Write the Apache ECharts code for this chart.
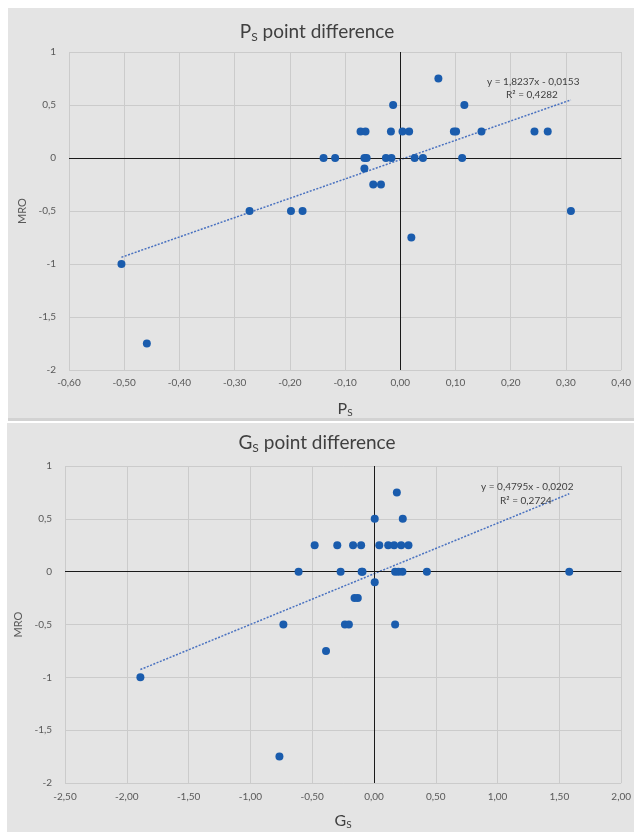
<!DOCTYPE html>
<html>
<head>
<meta charset="utf-8">
<script src="https://cdn.jsdelivr.net/npm/echarts@6/dist/echarts.min.js"></script>
<style>
html,body{margin:0;padding:0;background:#fff;}
#c{width:634px;height:832px;}
</style>
</head>
<body>
<div id="c"></div>
<script>
// ---- Data: top chart (P_S vs MRO) ----
const psX = [0.069, -0.013, 0.116,
  -0.072, -0.063, -0.017, 0.004, 0.016, 0.097, 0.101, 0.147, 0.243, 0.267,
  -0.139, -0.118, -0.065, -0.061, -0.026, -0.016, 0.026, 0.041, 0.112,
  -0.065, -0.049, -0.035,
  -0.273, -0.198, -0.177, 0.309,
  0.020, -0.505, -0.459];
const psY = [0.75, 0.5, 0.5,
  0.25, 0.25, 0.25, 0.25, 0.25, 0.25, 0.25, 0.25, 0.25, 0.25,
  0, 0, 0, 0, 0, 0, 0, 0, 0,
  -0.1, -0.25, -0.25,
  -0.5, -0.5, -0.5, -0.5,
  -0.75, -1, -1.75];
const psTrend = { slope: 1.8237, intercept: -0.0153, eq: 'y = 1,8237x - 0,0153', r2: 'R² = 0,4282' };
const psTickLabels = ['-0,60','-0,50','-0,40','-0,30','-0,20','-0,10','0,00','0,10','0,20','0,30','0,40'];

// ---- Data: bottom chart (G_S vs MRO) ----
const gsX = [0.185, 0.006, 0.233,
  -0.48, -0.297, -0.169, -0.104, 0.043, 0.115, 0.163, 0.22, 0.279,
  -0.61, -0.27, -0.10, -0.093, 0.171, 0.198, 0.23, 0.428, 1.58,
  0.006, -0.157, -0.131,
  -0.733, -0.235, -0.203, 0.171,
  -0.388, -1.89, -0.765];
const gsY = [0.75, 0.5, 0.5,
  0.25, 0.25, 0.25, 0.25, 0.25, 0.25, 0.25, 0.25, 0.25,
  0, 0, 0, 0, 0, 0, 0, 0, 0,
  -0.1, -0.25, -0.25,
  -0.5, -0.5, -0.5, -0.5,
  -0.75, -1, -1.75];
const gsTrend = { slope: 0.4795, intercept: -0.0202, eq: 'y = 0,4795x - 0,0202', r2: 'R² = 0,2724' };
const gsTickLabels = ['-2,50','-2,00','-1,50','-1,00','-0,50','0,00','0,50','1,00','1,50','2,00'];

const mroTickLabels = ['-2','-1,5','-1','-0,5','0','0,5','1'];

// ---- Build ----
const FONT = 'Lato, "Open Sans", sans-serif';
const BG = '#e4e4e4';
const DOT = '#1a5cad';
const TXT = '#595959';

function pts(xs, ys){ return xs.map((x,i)=>[x, ys[i]]); }
function trendLine(xs, t){
  const lo = Math.min(...xs), hi = Math.max(...xs);
  return [[lo, t.slope*lo + t.intercept],[hi, t.slope*hi + t.intercept]];
}
function labelFrom(arr, min, step){
  return v => { const i = Math.round((v - min)/step); return arr[i] !== undefined ? arr[i] : ''; };
}

const chart = echarts.init(document.getElementById('c'), null, {renderer:'canvas'});

const axisCommon = {
  type:'value',
  axisLine:{show:false},
  axisTick:{show:false},
  splitLine:{show:true, lineStyle:{color:'#cbcbcb', width:1}},
  axisLabel:{color:TXT, fontSize:10, fontFamily:FONT}
};
const subRich = {
  a:{fontSize:16, color:'#404040', fontFamily:FONT, fontWeight:'normal'},
  s:{fontSize:10, color:'#404040', fontFamily:FONT, fontWeight:'normal', verticalAlign:'bottom', padding:[8,0,0,0]}
};
const titleRich = {
  a:{fontSize:19, color:'#404040', fontFamily:FONT, fontWeight:'normal'},
  s:{fontSize:12, color:'#404040', fontFamily:FONT, fontWeight:'normal', padding:[10,0,0,0]}
};

function zeroLines(){
  return {
    silent:true, symbol:'none', animation:false,
    label:{show:false},
    lineStyle:{color:'#1a1a1a', width:1, type:'solid'},
    data:[{xAxis:0},{yAxis:0}]
  };
}

const option = {
  backgroundColor:'#ffffff',
  animation:false,
  graphic:[
    {type:'rect', shape:{x:8, y:8, width:626, height:411}, style:{fill:BG}, z:-10},
    {type:'rect', shape:{x:8, y:418, width:626, height:3}, style:{fill:'#d2d2d2'}, z:-10},
    {type:'rect', shape:{x:7, y:423, width:627, height:409}, style:{fill:BG}, z:-10},
    {type:'text', left:487, top:77, style:{text:psTrend.eq, fill:'#404040', font:'10px '+FONT}, z:10},
    {type:'text', left:506, top:90, style:{text:psTrend.r2, fill:'#404040', font:'10px '+FONT}, z:10},
    {type:'text', left:481, top:482, style:{text:gsTrend.eq, fill:'#404040', font:'10px '+FONT}, z:10},
    {type:'text', left:500, top:496, style:{text:gsTrend.r2, fill:'#404040', font:'10px '+FONT}, z:10}
  ],
  title:[
    {text:'{a|P}{s|S}{a| point difference}', left:'center', top:16, textStyle:{fontWeight:'normal', rich:titleRich}},
    {text:'{a|G}{s|S}{a| point difference}', left:'center', top:427, textStyle:{fontWeight:'normal', rich:titleRich}}
  ],
  grid:[
    {left:69, right:10, top:52, height:318},
    {left:65, right:9, top:466, height:317}
  ],
  xAxis:[
    Object.assign({}, axisCommon, {gridIndex:0, min:-0.6, max:0.4, interval:0.1,
      axisLabel:Object.assign({}, axisCommon.axisLabel, {margin:8, formatter:labelFrom(psTickLabels,-0.6,0.1)}),
      name:'{a|P}{s|S}', nameLocation:'middle', nameGap:30, nameTextStyle:{rich:subRich}}),
    Object.assign({}, axisCommon, {gridIndex:1, min:-2.5, max:2, interval:0.5,
      axisLabel:Object.assign({}, axisCommon.axisLabel, {margin:9, formatter:labelFrom(gsTickLabels,-2.5,0.5)}),
      name:'{a|G}{s|S}', nameLocation:'middle', nameGap:29, nameTextStyle:{rich:subRich}})
  ],
  yAxis:[
    Object.assign({}, axisCommon, {gridIndex:0, min:-2, max:1, interval:0.5,
      axisLabel:Object.assign({}, axisCommon.axisLabel, {margin:13, formatter:labelFrom(mroTickLabels,-2,0.5)}),
      name:'MRO', nameLocation:'middle', nameGap:38, nameTextStyle:{fontSize:11, color:TXT, fontFamily:FONT}}),
    Object.assign({}, axisCommon, {gridIndex:1, min:-2, max:1, interval:0.5,
      axisLabel:Object.assign({}, axisCommon.axisLabel, {margin:13, formatter:labelFrom(mroTickLabels,-2,0.5)}),
      name:'MRO', nameLocation:'middle', nameGap:35, nameTextStyle:{fontSize:11, color:TXT, fontFamily:FONT}})
  ],
  series:[
    {type:'scatter', xAxisIndex:0, yAxisIndex:0, data:pts(psX, psY), symbolSize:8,
      itemStyle:{color:DOT, opacity:1}, z:5, markLine:zeroLines()},
    {type:'line', xAxisIndex:0, yAxisIndex:0, data:trendLine(psX, psTrend), symbol:'none',
      lineStyle:{color:'#4a72c0', width:1.5, type:[2,1.5]}, z:4, silent:true},
    {type:'scatter', xAxisIndex:1, yAxisIndex:1, data:pts(gsX, gsY), symbolSize:8,
      itemStyle:{color:DOT, opacity:1}, z:5, markLine:zeroLines()},
    {type:'line', xAxisIndex:1, yAxisIndex:1, data:trendLine(gsX, gsTrend), symbol:'none',
      lineStyle:{color:'#4a72c0', width:1.5, type:[2,1.5]}, z:4, silent:true}
  ]
};
chart.setOption(option);
</script>
</body>
</html>
